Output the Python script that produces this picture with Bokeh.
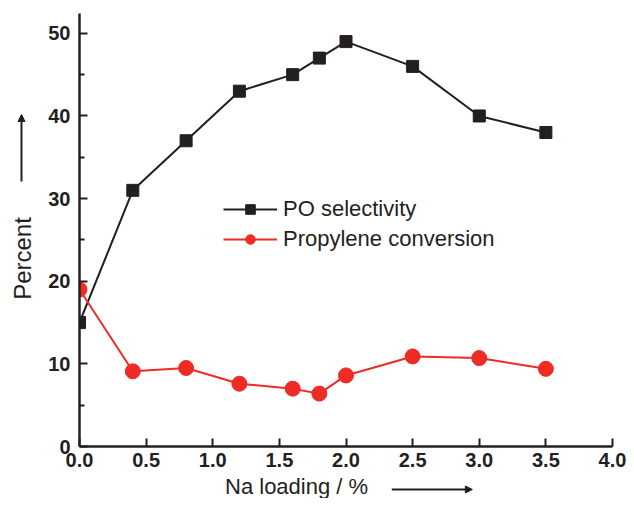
from bokeh.plotting import figure
from bokeh.models import Range1d, FixedTicker, Label, Arrow, NormalHead, Legend, LegendItem, CustomJSTickFormatter
from bokeh.layouts import row, column
from bokeh.embed import file_html
from bokeh.resources import INLINE
import math

na_loading = [0.0, 0.4, 0.8, 1.2, 1.6, 1.8, 2.0, 2.5, 3.0, 3.5]
po_selectivity = [15, 31, 37, 43, 45, 47, 49, 46, 40, 38]
propylene_conversion = [19.0, 9.1, 9.5, 7.6, 7.0, 6.4, 8.6, 10.9, 10.7, 9.4]
x_ticks = [0.0, 0.5, 1.0, 1.5, 2.0, 2.5, 3.0, 3.5, 4.0]
y_ticks = [0, 10, 20, 30, 40, 50]
y_minor = [5, 15, 25, 35, 45]

BLACK = "#231f20"
RED = "#ee2b24"
FONT = "Liberation Sans"

LEFT_W = 44
TOTAL_W = 626
TOTAL_H = 498
MAIN_H = 474

# ---- main plot ----
p = figure(width=TOTAL_W - LEFT_W, height=MAIN_H, output_backend="svg", toolbar_location=None,
           x_range=Range1d(0, 4.0), y_range=Range1d(0, 52.4),
           min_border_left=35, min_border_right=14, min_border_top=13, min_border_bottom=28)
p.outline_line_color = None
p.grid.visible = False

for ax in (p.xaxis[0], p.yaxis[0]):
    ax.axis_line_width = 2.5
    ax.axis_line_color = BLACK
    ax.major_tick_line_width = 2
    ax.major_tick_line_color = BLACK
    ax.major_tick_in = 8
    ax.major_tick_out = 0
    ax.minor_tick_in = 5
    ax.minor_tick_out = 0
    ax.minor_tick_line_width = 2
    ax.minor_tick_line_color = BLACK
    ax.major_label_text_font = FONT
    ax.major_label_text_font_style = "bold"
    ax.major_label_text_font_size = "20px"
    ax.major_label_text_color = BLACK

p.xaxis.ticker = FixedTicker(ticks=x_ticks)
p.xaxis.minor_tick_line_color = None
p.xaxis.formatter = CustomJSTickFormatter(code="return tick.toFixed(1);")
p.xaxis.major_label_standoff = 6
p.yaxis.ticker = FixedTicker(ticks=y_ticks, minor_ticks=y_minor)
p.yaxis.major_label_standoff = 9

r1l = p.line(na_loading, po_selectivity, line_color=BLACK, line_width=2)
r1m = p.scatter(na_loading, po_selectivity, marker="square", size=12, fill_color=BLACK, line_color=BLACK)
r2l = p.line(na_loading, propylene_conversion, line_color=RED, line_width=2)
r2m = p.scatter(na_loading, propylene_conversion, marker="circle", size=15, fill_color=RED, line_color=RED)

legend = Legend(items=[LegendItem(label="PO selectivity", renderers=[r1l, r1m]),
                       LegendItem(label="Propylene conversion", renderers=[r2l, r2m])],
                location=(144, 194), border_line_color=None, background_fill_alpha=0,
                label_text_font=FONT, label_text_font_size="22px", label_text_color=BLACK,
                glyph_width=54, glyph_height=24, label_height=24, label_standoff=6,
                spacing=4, padding=0, margin=0)
p.add_layout(legend, "center")


def strip(w, h, xr, yr):
    f = figure(width=w, height=h, output_backend="svg", toolbar_location=None,
               x_range=xr, y_range=yr, x_axis_location=None, y_axis_location=None,
               min_border=0)
    f.outline_line_color = None
    f.grid.visible = False
    return f


# ---- left strip: y-axis title with arrow (coordinates in page pixels) ----
left = strip(LEFT_W, TOTAL_H, Range1d(0, LEFT_W), Range1d(TOTAL_H, 0))
left.add_layout(Label(x=22, y=258, text="Percent", angle=math.pi / 2, text_align="center",
                      text_baseline="middle", text_font=FONT, text_font_size="24px", text_color=BLACK))
left.add_layout(Arrow(x_start=21, y_start=181, x_end=21, y_end=114, line_width=2, line_color=BLACK,
                      end=NormalHead(size=7, fill_color=BLACK, line_color=BLACK)))

# ---- bottom strip: x-axis title with arrow ----
bottom = strip(TOTAL_W - LEFT_W, TOTAL_H - MAIN_H, Range1d(LEFT_W, TOTAL_W), Range1d(TOTAL_H, MAIN_H))
bottom.add_layout(Label(x=281, y=486, text="Na loading / %", text_align="center",
                        text_baseline="middle", text_font=FONT, text_font_size="22px", text_color=BLACK))
bottom.add_layout(Arrow(x_start=385, y_start=489, x_end=473, y_end=489, line_width=2, line_color=BLACK,
                        end=NormalHead(size=7, fill_color=BLACK, line_color=BLACK)))

layout = row(left, column(p, bottom, spacing=0), spacing=0)
open("out.html", "w").write(file_html(layout, INLINE))
